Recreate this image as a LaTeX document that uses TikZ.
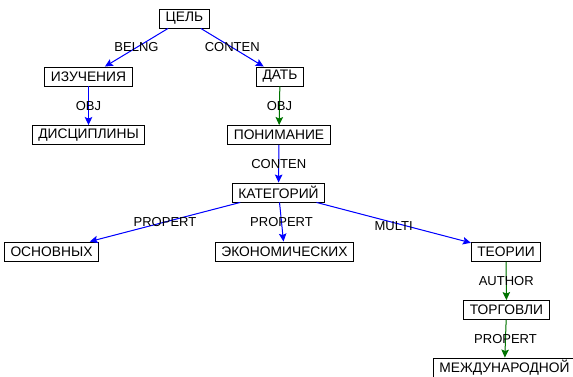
\documentclass[tikz,border=0pt]{standalone}
\usepackage{fontspec}
\setmainfont{Liberation Sans}
\usetikzlibrary{positioning, arrows.meta}

\begin{document}
\begin{tikzpicture}[
  x=1pt, y=-1pt,
  >={Stealth[length=8pt, width=7.5pt, inset=1.5pt]},
  word/.style={draw=black, line width=0.9pt, minimum height=19pt, inner xsep=6pt, inner ysep=0pt,
    font=\fontsize{13.8}{15}\selectfont},
  blueedge/.style={->, draw=blue, fill=blue, line width=1pt},
  greenedge/.style={->, draw=green!45!black, fill=green!45!black, line width=1pt},
  rel/.style={midway, inner sep=0pt, font=\fontsize{13}{15}\selectfont}
]
\useasboundingbox (0,0) rectangle (573,377);

% --- Nodes ---
\node[word] (cel) at (184.5, 18.5) {ЦЕЛЬ};

\node[word] (izuch) at (88.5, 76.5) {ИЗУЧЕНИЯ};
\node[word] (discipl) at (88.5, 135) {ДИСЦИПЛИНЫ};

\node[word] (dat) at (280, 76.5) {ДАТЬ};
\node[word] (ponim) at (279, 135) {ПОНИМАНИЕ};
\node[word] (kateg) at (278.5, 192.5) {КАТЕГОРИЙ};

\node[word] (osnov) at (51.5, 251.5) {ОСНОВНЫХ};
\node[word] (ekonom) at (284.5, 251.5) {ЭКОНОМИЧЕСКИХ};
\node[word] (teorii) at (506, 252) {ТЕОРИИ};

\node[word] (torgov) at (506.5, 310) {ТОРГОВЛИ};
\node[word] (mezhd) at (504.5, 367.5) {МЕЖДУНАРОДНОЙ};

% --- Edges ---
\draw[blueedge] (cel) -- node[rel] {BELNG} (izuch);
\draw[blueedge] (cel) -- node[rel] {CONTEN} (dat);

\draw[blueedge] (izuch) -- node[rel] {OBJ} (discipl);
\draw[greenedge] (dat) -- node[rel] {OBJ} (ponim);

\draw[blueedge] (ponim) -- node[rel] {CONTEN} (kateg);

\draw[blueedge] (kateg) -- node[rel] {PROPERT} (osnov);
\draw[blueedge] (kateg) -- node[rel] {PROPERT} (ekonom);
\draw[blueedge] (kateg) -- node[rel, yshift=-3pt] {MULTI} (teorii);

% green chain on the right
\draw[greenedge] (teorii) -- node[rel] {AUTHOR} (torgov);
\draw[greenedge] (torgov) -- node[rel] {PROPERT} (mezhd);

\end{tikzpicture}
\end{document}
